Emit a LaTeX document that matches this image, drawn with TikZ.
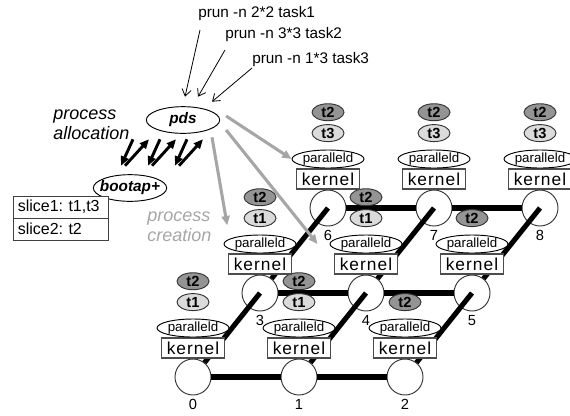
\documentclass[tikz,border=0pt]{standalone}
\usepackage{fontspec}
\setmainfont{Liberation Sans}
\newfontfamily\kernelfont[LetterSpace=6]{Liberation Sans}
\usetikzlibrary{positioning,arrows.meta,shapes.geometric}

\tikzset{
	nodo/.style={draw=black!80, line width=0.7pt, circle, fill=white, minimum size=27pt, inner sep=0pt},
	kernelbox/.style={draw=black!70, line width=0.8pt, rectangle, fill=white, minimum width=47.25pt, minimum height=15pt, inner sep=0pt, font=\kernelfont\fontsize{13}{13}\selectfont},
	demonebox/.style={draw, line width=0.7pt, ellipse, fill=white, minimum width=54pt, minimum height=13.5pt, inner sep=0pt, inner xsep=-2pt, font=\fontsize{10}{10}\selectfont},
	compito/.style={draw=black!80, line width=0.7pt, ellipse, minimum width=24pt, minimum height=12.75pt, inner sep=0pt, font=\bfseries\fontsize{11}{11}\selectfont},
	compitoChiaro/.style={compito, fill=black!14},
	compitoScuro/.style={compito, fill=black!42},
	numero/.style={inner sep=1pt, font=\fontsize{11}{11}\selectfont},
	processo/.style={draw, line width=0.7pt, ellipse, fill=white, minimum width=55pt, minimum height=20pt, inner sep=0pt, inner xsep=-4pt, font=\bfseries\itshape\fontsize{11.5}{11.5}\selectfont},
	cella/.style={draw=black!75, line width=0.7pt, rectangle, fill=white, minimum width=71.25pt, minimum height=16.5pt, text width=64pt, align=left, inner xsep=3.6pt, inner ysep=0pt, outer sep=0pt, font=\frenchspacing\fontsize{12}{12}\selectfont},
	comando/.style={anchor=west, inner sep=0pt, font=\fontsize{11.5}{11.5}\selectfont},
	etichetta/.style={anchor=west, inner sep=0pt, align=left, font=\itshape\fontsize{13.5}{15}\selectfont},
	collegamento/.style={line width=3.8pt},
	frecciaComando/.style={line width=0.6pt, -{Straight Barb[length=5pt,width=7pt]}},
	frecciaNera/.style={line width=2.2pt, -{Triangle[length=7pt,width=6pt]}},
	frecciaGrigia/.style={draw=black!35, line width=2.3pt, -{Triangle[length=7pt,width=6pt]}}
}

\begin{document}
\begin{tikzpicture}[x=0.75pt,y=0.75pt]
	
	\useasboundingbox (0,0) rectangle (570,-415);
	
	%Disegno i nodi della griglia
	\node (cerchio0) at (193,-377) [nodo]{};
	\node (cerchio1) at (299,-377) [nodo]{};
	\node (cerchio2) at (405,-377) [nodo]{};
	\node (cerchio3) at (260,-293) [nodo]{};
	\node (cerchio4) at (366,-293) [nodo]{};
	\node (cerchio5) at (472,-293) [nodo]{};
	\node (cerchio6) at (328,-208) [nodo]{};
	\node (cerchio7) at (434,-208) [nodo]{};
	\node (cerchio8) at (540,-208) [nodo]{};
	
	%Disegno i collegamenti della griglia
	\draw[collegamento] (cerchio0) -- (cerchio1);
	\draw[collegamento] (cerchio1) -- (cerchio2);
	\draw[collegamento] (cerchio3) -- (cerchio4);
	\draw[collegamento] (cerchio4) -- (cerchio5);
	\draw[collegamento] (cerchio6) -- (cerchio7);
	\draw[collegamento] (cerchio7) -- (cerchio8);
	\draw[collegamento] (cerchio0) -- (cerchio3.center);
	\draw[collegamento] (cerchio1) -- (cerchio4.center);
	\draw[collegamento] (cerchio2) -- (cerchio5.center);
	\draw[collegamento] (cerchio3) -- (cerchio6.center);
	\draw[collegamento] (cerchio4) -- (cerchio7.center);
	\draw[collegamento] (cerchio5) -- (cerchio8.center);
	
	%Disegno le pile sopra i nodi
	\node (kernel0) [kernelbox, above=0pt of cerchio0]{kernel};
	\node (demone0) [demonebox, above=0pt of kernel0]{paralleld};
	\node (compitoA0) [compitoChiaro, above=5.6pt of demone0]{t1};
	\node (compitoB0) [compitoScuro, above=2.2pt of compitoA0]{t2};
	\node (numero0) [numero, below=2pt of cerchio0]{0};
	
	\node (kernel1) [kernelbox, above=0pt of cerchio1]{kernel};
	\node (demone1) [demonebox, above=0pt of kernel1]{paralleld};
	\node (compitoA1) [compitoChiaro, above=5.6pt of demone1]{t1};
	\node (compitoB1) [compitoScuro, above=2.2pt of compitoA1]{t2};
	\node (numero1) [numero, below=2pt of cerchio1]{1};
	
	\node (kernel2) [kernelbox, above=0pt of cerchio2]{kernel};
	\node (demone2) [demonebox, above=0pt of kernel2]{paralleld};
	\node (compitoB2) [compitoScuro, above=5.6pt of demone2]{t2};
	\node (numero2) [numero, below=2pt of cerchio2]{2};
	
	\node (kernel3) [kernelbox, above=0pt of cerchio3]{kernel};
	\node (demone3) [demonebox, above=0pt of kernel3]{paralleld};
	\node (compitoA3) [compitoChiaro, above=5.6pt of demone3]{t1};
	\node (compitoB3) [compitoScuro, above=2.2pt of compitoA3]{t2};
	\node (numero3) [numero, below=2pt of cerchio3]{3};
	
	\node (kernel4) [kernelbox, above=0pt of cerchio4]{kernel};
	\node (demone4) [demonebox, above=0pt of kernel4]{paralleld};
	\node (compitoA4) [compitoChiaro, above=5.6pt of demone4]{t1};
	\node (compitoB4) [compitoScuro, above=2.2pt of compitoA4]{t2};
	\node (numero4) [numero, below=2pt of cerchio4]{4};
	
	\node (kernel5) [kernelbox, above=0pt of cerchio5]{kernel};
	\node (demone5) [demonebox, above=0pt of kernel5]{paralleld};
	\node (compitoB5) [compitoScuro, above=5.6pt of demone5]{t2};
	\node (numero5) [numero, below=2pt of cerchio5]{5};
	
	\node (kernel6) [kernelbox, above=0pt of cerchio6]{kernel};
	\node (demone6) [demonebox, above=0pt of kernel6]{paralleld};
	\node (compitoA6) [compitoChiaro, above=5.6pt of demone6]{t3};
	\node (compitoB6) [compitoScuro, above=2.2pt of compitoA6]{t2};
	\node (numero6) [numero, below=2pt of cerchio6]{6};
	
	\node (kernel7) [kernelbox, above=0pt of cerchio7]{kernel};
	\node (demone7) [demonebox, above=0pt of kernel7]{paralleld};
	\node (compitoA7) [compitoChiaro, above=5.6pt of demone7]{t3};
	\node (compitoB7) [compitoScuro, above=2.2pt of compitoA7]{t2};
	\node (numero7) [numero, below=2pt of cerchio7]{7};
	
	\node (kernel8) [kernelbox, above=0pt of cerchio8]{kernel};
	\node (demone8) [demonebox, above=0pt of kernel8]{paralleld};
	\node (compitoA8) [compitoChiaro, above=5.6pt of demone8]{t3};
	\node (compitoB8) [compitoScuro, above=2.2pt of compitoA8]{t2};
	\node (numero8) [numero, below=2pt of cerchio8]{8};
	
	%Disegno pds, bootap+ e la tabella
	\node (pds) at (183,-120) [processo]{pds};
	\node (bootap) at (130,-188) [processo]{bootap+};
	\node (slice1) at (60.5,-207) [cella]{slice1: t1,t3};
	\node (slice2) [cella, below=0pt of slice1]{slice2: t2};
	
	%Disegno i testi
	\node (primoComando) at (198,-14) [comando]{prun -n 2*2 task1};
	\node (secondoComando) at (225,-35) [comando]{prun -n 3*3 task2};
	\node (terzoComando) at (252,-60) [comando]{prun -n 1*3 task3};
	\node (allocazione) at (53,-125) [etichetta]{process\\allocation};
	\node (creazione) at (147,-227) [etichetta, text=black!35]{process\\creation};
	
	%Disegno le frecce dei comandi
	\draw[frecciaComando] ([shift={(2,-16)}]primoComando.west) -- ([shift={(2,9.5)}]pds.north);
	\draw[frecciaComando] ([shift={(0,-15)}]secondoComando.west) -- ([shift={(15,9.5)}]pds.north);
	\draw[frecciaComando] ([shift={(0,-8)}]terzoComando.west) -- ([shift={(29,4.5)}]pds.north);
	
	%Disegno le frecce tra pds e bootap+
	\draw[frecciaNera] ([shift={(-50,-5.5)}]pds.south) -- ([shift={(-9,8.5)}]bootap.north);
	\draw[frecciaNera] ([shift={(-5,8.5)}]bootap.north) -- ([shift={(-34,-5.5)}]pds.south);
	\draw[frecciaNera] ([shift={(-23,-5.5)}]pds.south) -- ([shift={(18,8.5)}]bootap.north);
	\draw[frecciaNera] ([shift={(22,8.5)}]bootap.north) -- ([shift={(-7,-5.5)}]pds.south);
	\draw[frecciaNera] ([shift={(4,-5.5)}]pds.south) -- ([shift={(45,8.5)}]bootap.north);
	\draw[frecciaNera] ([shift={(49,8.5)}]bootap.north) -- ([shift={(20,-5.5)}]pds.south);
	
	%Disegno le frecce di creazione
	\draw[frecciaGrigia] ([shift={(6,4)}]pds.east) -- (demone6.west);
	\draw[frecciaGrigia] ([shift={(6,-10)}]pds.east) -- ([shift={(-12,0)}]demone4.west);
	\draw[frecciaGrigia] ([shift={(29,-3.5)}]pds.south) -- ([shift={(-7,12)}]demone3.north west);
	
\end{tikzpicture}
\end{document}
